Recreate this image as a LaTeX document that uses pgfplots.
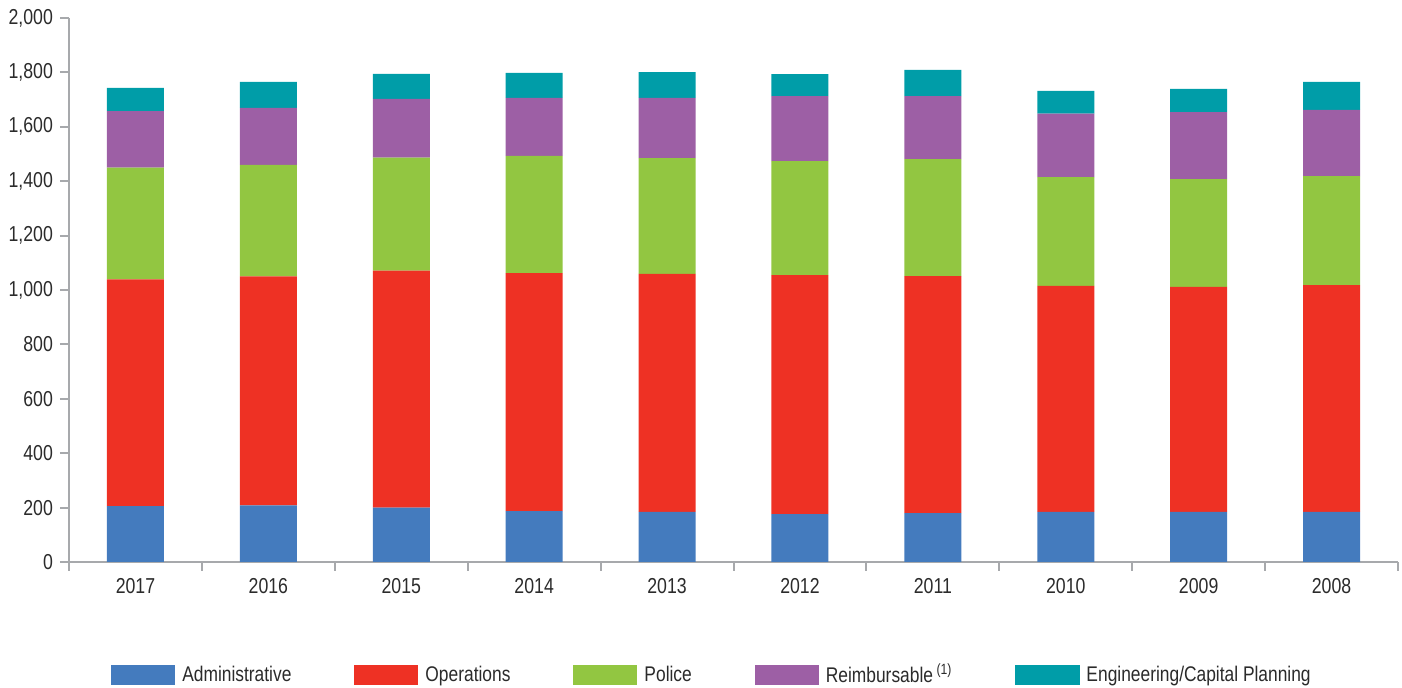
\documentclass[border=0pt]{standalone}
\usepackage{pgfplots}
\pgfplotsset{compat=1.18}
\usepackage{pgfplotstable}
\usepackage{fontspec}
\setmainfont{Liberation Sans}[FakeStretch=0.82]

\definecolor{cAdm}{HTML}{447BBE}
\definecolor{cOps}{HTML}{EE3124}
\definecolor{cPol}{HTML}{92C641}
\definecolor{cReim}{HTML}{9D5FA5}
\definecolor{cEng}{HTML}{009DA8}
\definecolor{axisgray}{HTML}{A7A9AC}
\definecolor{textgray}{HTML}{2B2B2B}

% staff by year (stacked components)
\pgfplotstableread{
year adm ops pol reim eng
2017 205 834 411 208 85
2016 208 842 410 210 95
2015 200 871 416 216 92
2014 187 875 431 213 92
2013 184 875 426 221 95
2012 176 879 419 239 81
2011 180 871 430 232 96
2010 184 831 400 233 84
2009 184 827 397 246 85
2008 184 834 401 243 103
}\staff

\begin{document}
\begin{tikzpicture}
\useasboundingbox (-34.5pt,-63pt) rectangle (666.5pt,281pt);
\begin{axis}[
  scale only axis,
  width=664.5pt, height=272pt,
  ybar stacked, bar width=28.5pt,
  xmin=-0.5, xmax=9.5, ymin=0, ymax=2000,
  xtick={-0.5,0.5,...,9.5},
  x tick label as interval,
  xticklabels={2017,2016,2015,2014,2013,2012,2011,2010,2009,2008},
  ytick={0,200,...,2000},
  axis x line*=bottom, axis y line*=left,
  axis line style={draw=axisgray, line width=1pt},
  tick style={draw=axisgray, line width=1pt},
  tick align=outside, major tick length=4.5pt,
  ticklabel style={font=\fontsize{10.8}{12}\selectfont, text=textgray},
  /pgf/number format/.cd, 1000 sep={,}, assume math mode=true, /pgfplots/.cd,
  legend columns=5,
  legend cell align=left,
  legend style={at={(0.4857,-0.2077)}, anchor=center, draw=none,
    font=\fontsize{10.6}{12}\selectfont, text=textgray,
    nodes={inner xsep=3.5pt},
    /tikz/every even column/.append style={column sep=28pt}},
  legend image code/.code={\fill[#1] (0pt,-5pt) rectangle (32pt,5pt);},
]
\addplot[fill=cAdm, draw=none] table[x expr=\coordindex, y=adm]{\staff};
\addplot[fill=cOps, draw=none] table[x expr=\coordindex, y=ops]{\staff};
\addplot[fill=cPol, draw=none] table[x expr=\coordindex, y=pol]{\staff};
\addplot[fill=cReim, draw=none] table[x expr=\coordindex, y=reim]{\staff};
\addplot[fill=cEng, draw=none] table[x expr=\coordindex, y=eng]{\staff};
\legend{Administrative, Operations, Police, Reimbursable\,\textsuperscript{(1)}, Engineering/Capital Planning}
\end{axis}
\end{tikzpicture}
\end{document}
